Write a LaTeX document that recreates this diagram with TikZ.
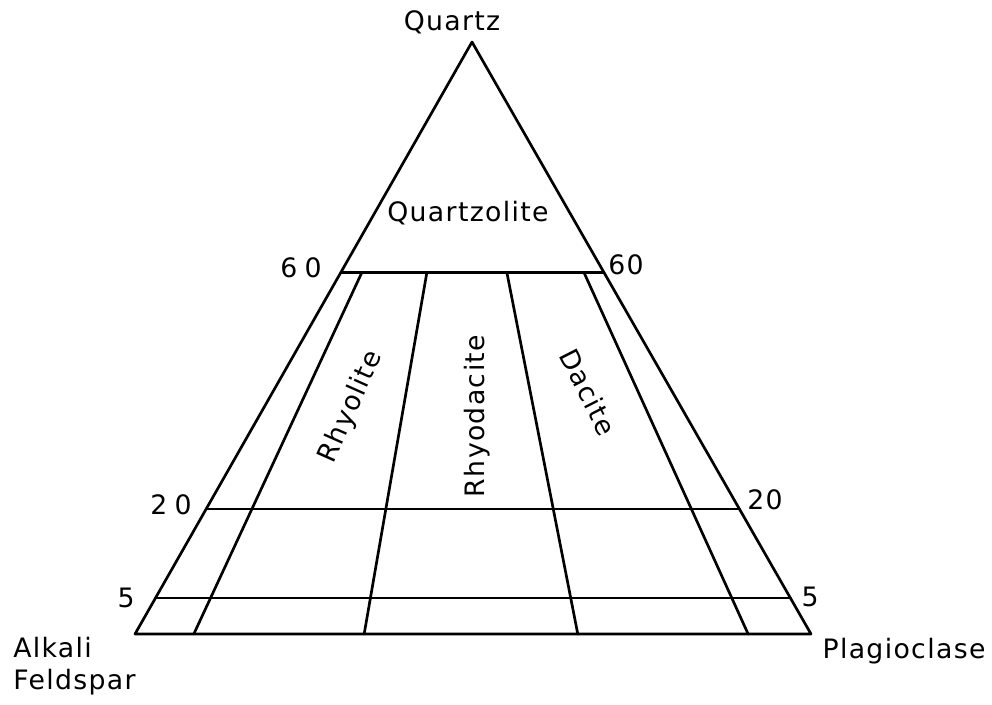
\documentclass[tikz,border=0pt]{standalone}
\usepackage{fontspec}
\setmainfont{DejaVu Sans}[LetterSpace=5]
\usetikzlibrary{calc}

\begin{document}
\begin{tikzpicture}[x=0.025cm,y=-0.025cm,line cap=round,line join=round,
    font=\fontsize{19}{23}\selectfont,
    edge/.style={line width=1.9pt},
    lbl/.style={inner sep=0pt}]
  \useasboundingbox (0,0) rectangle (992,704);
  % corners of the QAP triangle
  \coordinate (qz) at (472,42);
  \coordinate (af) at (135,634);
  \coordinate (pl) at (811,634);
  \draw[edge] (af) -- (qz) -- (pl) -- cycle;
  % quartz cuts at 60, 20 and 5
  \coordinate (l60) at ($(qz)!0.389!(af)$);
  \coordinate (r60) at ($(qz)!0.389!(pl)$);
  \coordinate (l20) at ($(qz)!0.789!(af)$);
  \coordinate (r20) at ($(qz)!0.789!(pl)$);
  \coordinate (l5) at ($(qz)!0.939!(af)$);
  \coordinate (r5) at ($(qz)!0.939!(pl)$);
  \draw[edge] (l60) -- (r60);
  \draw[edge] (l20) -- (r20);
  \draw[edge] (l5) -- (r5);
  % field boundaries below the 60 line
  \foreach \a/\b in {0.08/0.087,0.327/0.339,0.631/0.655,0.924/0.907}
    \draw[edge] ($(l60)!\a!(r60)$) -- ($(af)!\b!(pl)$);

  \node[lbl] (quartz) at (452,22) {Quartz};
  \node[lbl] (qzlite) at (468,213) {Quartzolite};
  \node[lbl,rotate=66] (rhy) at (351,407) {Rhyolite};
  \node[lbl,rotate=90] (rhyd) at (477,416) {Rhyodacite};
  \node[lbl,rotate=-63] (dac) at (588,392) {Dacite};

  \node[lbl] (n60l) at (301,268) {6\hspace{5pt}0};
  \node[lbl] (n60r) at (626,265) {60};
  \node[lbl] (n20l) at (171,505) {2\hspace{5pt}0};
  \node[lbl] (n20r) at (765,500) {20};
  \node[lbl] (n5l) at (126,598) {5};
  \node[lbl] (n5r) at (810,597) {5};

  \node[lbl,anchor=north west,align=left] (alk) at (13,637) {Alkali\\Feldspar};
  \node[lbl] (plag) at (904,651) {Plagioclase};
\end{tikzpicture}
\end{document}
